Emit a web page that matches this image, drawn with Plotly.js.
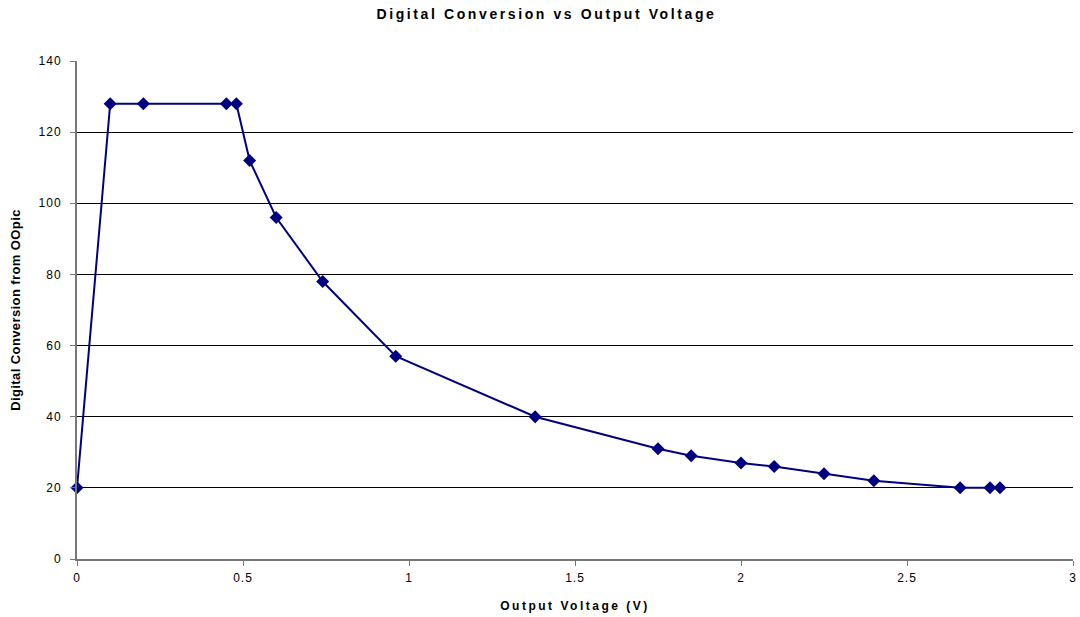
<!DOCTYPE html>
<html><head><meta charset="utf-8">
<script src="https://cdn.plot.ly/plotly-3.0.1.min.js"></script>
<style>
html,body{margin:0;padding:0;background:#fff}#c{width:1080px;height:617px}
#c .gtitle{letter-spacing:2.6px}
#c .g-xtitle text{letter-spacing:2.5px}
#c .g-ytitle text{letter-spacing:0.4px}
#c .xtick text,#c .ytick text{letter-spacing:1px}
</style>
</head><body><div id="c"></div>
<script>
const voltage = [0, 0.1, 0.2, 0.45, 0.48, 0.52, 0.6, 0.74, 0.96, 1.38, 1.75, 1.85, 2.0, 2.1, 2.25, 2.4, 2.66, 2.75, 2.78];
const conversion = [20, 128, 128, 128, 128, 112, 96, 78, 57, 40, 31, 29, 27, 26, 24, 22, 20, 20, 20];
const xTicks = [0, 0.5, 1, 1.5, 2, 2.5, 3];
const yTicks = [0, 20, 40, 60, 80, 100, 120, 140];

const font = "Liberation Sans, Arial, sans-serif";
Plotly.newPlot('c', [{
  x: voltage, y: conversion, type: 'scatter', mode: 'lines+markers',
  line: {color: '#000080', width: 2},
  marker: {symbol: 'diamond', size: 10, color: '#000080'},
  cliponaxis: false
}], {
  width: 1080, height: 617,
  margin: {l: 77, r: 7, t: 61, b: 58},
  paper_bgcolor: '#fff', plot_bgcolor: '#fff',
  showlegend: false,
  font: {family: font, size: 12, color: '#000'},
  title: {text: '<b>Digital Conversion vs Output Voltage</b>', x: 0.506, xanchor: 'center', y: 0.977, yanchor: 'middle', font: {family: font, size: 14}},
  xaxis: {
    range: [0, 3], tickvals: xTicks, ticktext: xTicks.map(String),
    showgrid: false, zeroline: false, showline: true, linecolor: '#777', linewidth: 2,
    ticks: 'outside', ticklen: 5, tickcolor: '#777', tickfont: {size: 12}, ticklabelstandoff: 2,
    title: {text: '<b>Output Voltage (V)</b>', standoff: 17, font: {size: 12}}
  },
  yaxis: {
    range: [0, 140], tickvals: yTicks, ticktext: yTicks.map(String),
    showgrid: true, gridcolor: '#000', gridwidth: 1, zeroline: false,
    showline: true, linecolor: '#777', linewidth: 2,
    ticks: 'outside', ticklen: 5, tickcolor: '#777', tickfont: {size: 12}, ticklabelstandoff: 6,
    title: {text: '<b>Digital Conversion from OOpic</b>', standoff: 18, font: {size: 13}}
  }
}, {staticPlot: true});
</script></body></html>
